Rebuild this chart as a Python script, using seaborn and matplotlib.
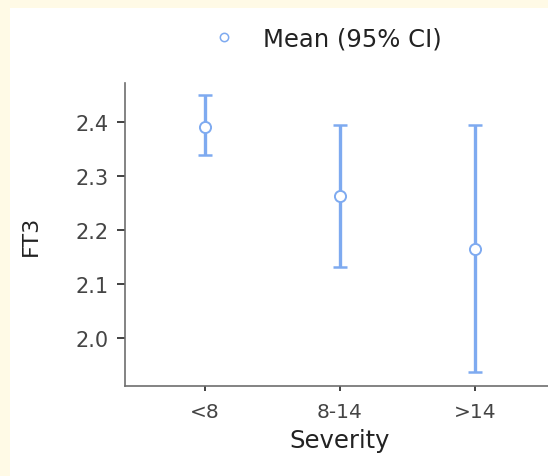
import pandas as pd
import seaborn as sns
import matplotlib.pyplot as plt
from matplotlib.lines import Line2D
from matplotlib.patches import Rectangle

# Values
severity = ['<8', '8-14', '>14']
ft3_mean = [2.391, 2.262, 2.165]
ci_low = [2.338, 2.132, 1.937]
ci_high = [2.449, 2.394, 2.394]
y_ticks = [2.0, 2.1, 2.2, 2.3, 2.4]

blue = '#7eaaf0'
df = pd.DataFrame({'Severity': severity, 'FT3': ft3_mean, 'low': ci_low, 'high': ci_high})

sns.set_theme(style='white')
plt.rcParams['font.family'] = ['DejaVu Sans']

fig = plt.figure(figsize=(5.48, 4.77), dpi=100, facecolor='#fffae6')
# white page on a cream border
fig.patches.append(Rectangle((10 / 548, 0), 1, 1 - 9 / 477, transform=fig.transFigure,
                             facecolor='white', edgecolor='none', zorder=-10))
ax = fig.add_axes([125 / 548, 1 - 387 / 477, 430 / 548, 303 / 477])
ax.set_zorder(1)
ax.set_facecolor('none')

# confidence intervals
ax.errorbar(range(len(severity)), df['FT3'],
            yerr=[df['FT3'] - df['low'], df['high'] - df['FT3']],
            fmt='none', ecolor=blue, elinewidth=2.4, capsize=5, capthick=1.8, zorder=2)
# means
sns.pointplot(data=df, x='Severity', y='FT3', order=severity, linestyle='none',
              marker='o', markersize=8, markerfacecolor='white', markeredgecolor=blue,
              markeredgewidth=1.4, color=blue, errorbar=None, ax=ax, zorder=3)
for c in ax.collections + ax.lines:
    c.set_zorder(3)

ax.set_xlim(-0.59, 2.59)
ax.set_ylim(1.911, 2.472)
ax.set_yticks(y_ticks)
ax.set_yticklabels([f'{v:.1f}' for v in y_ticks])

for s in ['top', 'right']:
    ax.spines[s].set_visible(False)
for s in ['left', 'bottom']:
    ax.spines[s].set_color('#6e6e6e')
    ax.spines[s].set_linewidth(1.2)

ax.tick_params(axis='y', left=True, length=5.5, width=1.3, color='#333333',
               labelsize=15, labelcolor='#444444', pad=6)
ax.tick_params(axis='x', bottom=True, length=3.5, width=1.3, color='#333333',
               labelsize=14.5, labelcolor='#444444', pad=8)

ax.set_xlabel('Severity', fontsize=17.5, color='#222222')
ax.set_ylabel('FT3', fontsize=16, color='#222222')
ax.xaxis.set_label_coords(0.5, -0.14)
ax.yaxis.set_label_coords(-0.195, 0.5)

handle = Line2D([], [], linestyle='none', marker='o', markersize=6, markerfacecolor='white',
                markeredgecolor=blue, markeredgewidth=1.1)
fig.legend([handle], ['Mean (95% CI)'], loc='center left', bbox_to_anchor=(212 / 548, 1 - 40 / 477),
           frameon=False, fontsize=17.5, handlelength=1.0, handletextpad=1.1,
           labelcolor='#222222', borderaxespad=0, borderpad=0)

fig.savefig('out.png', dpi=100, facecolor=fig.get_facecolor())
